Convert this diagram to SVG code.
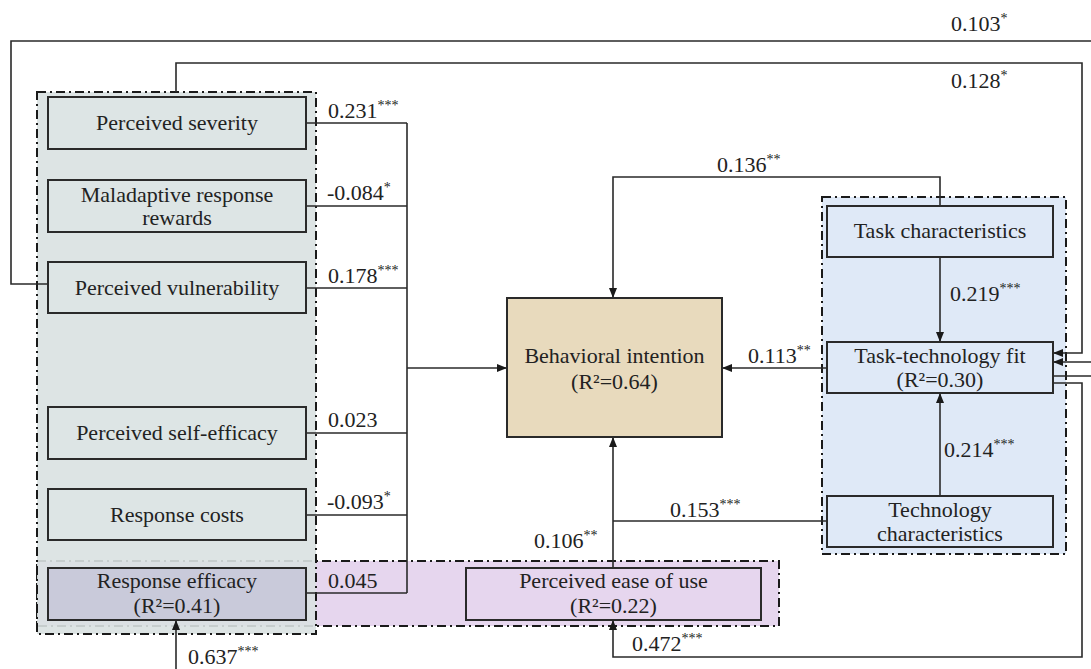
<svg xmlns="http://www.w3.org/2000/svg" width="1091" height="669" viewBox="0 0 1091 669">
<style>
.t{font-family:"Liberation Serif","DejaVu Serif",serif;font-size:22px;fill:#222;text-anchor:middle}
.l{font-family:"Liberation Serif","DejaVu Serif",serif;font-size:22px;fill:#222}
.s{font-size:14px}
.box{stroke:#2a2a2a;stroke-width:2}
.grp{stroke:#1a1a1a;stroke-width:2;stroke-dasharray:9 4 2 4}
.c{fill:none;stroke:#2a2a2a;stroke-width:1.6}
</style>
<defs>
<marker id="ah" markerWidth="10" markerHeight="8" refX="9" refY="4" orient="auto" markerUnits="userSpaceOnUse">
<path d="M0,0 L10,4 L0,8 Z" fill="#1a1a1a"/>
</marker>
</defs>
<rect width="1091" height="669" fill="#fff"/>

<g id="group-peou-band">
<rect x="37" y="561" width="742" height="65" fill="#e6d6ee" class="grp"/>
</g>
<g id="group-pmt">
<rect x="37" y="92" width="279" height="542" fill="#d9e1e1" fill-opacity="0.9" class="grp"/>
</g>
<g id="group-ttf">
<rect x="822" y="197" width="244" height="357" fill="#dfe9f7" class="grp"/>
</g>

<g id="connectors">
<polyline class="c" points="306,123 407,123"/>
<polyline class="c" points="306,206 407,206"/>
<polyline class="c" points="306,288 407,288"/>
<polyline class="c" points="306,433 407,433"/>
<polyline class="c" points="306,515 407,515"/>
<polyline class="c" points="306,593 407,593"/>
<polyline class="c" points="407,123 407,593"/>
<polyline class="c" points="407,368 506,368" marker-end="url(#ah)"/>
<polyline class="c" points="48,284 11,284 11,41 1091,41"/>
<polyline class="c" points="1091,362 1054,362" marker-end="url(#ah)"/>
<polyline class="c" points="176,92 176,63 1082,63 1082,353 1054,353" marker-end="url(#ah)"/>
<polyline class="c" points="1053,376 1091,376"/>
<polyline class="c" points="1053,383 1082,383 1082,657 613,657 613,621" marker-end="url(#ah)"/>
<polyline class="c" points="176,669 176,621" marker-end="url(#ah)"/>
<polyline class="c" points="940,206 940,177 613,177 613,297" marker-end="url(#ah)"/>
<polyline class="c" points="940,257 940,341" marker-end="url(#ah)"/>
<polyline class="c" points="940,496 940,394" marker-end="url(#ah)"/>
<polyline class="c" points="827,368 723,368" marker-end="url(#ah)"/>
<polyline class="c" points="827,521 613,521"/>
<polyline class="c" points="613,568 613,438" marker-end="url(#ah)"/>
<text class="l" x="328" y="118">0.231<tspan class="s" dy="-8">***</tspan></text>
<text class="l" x="327" y="200">-0.084<tspan class="s" dy="-8">*</tspan></text>
<text class="l" x="328" y="283">0.178<tspan class="s" dy="-8">***</tspan></text>
<text class="l" x="328" y="427">0.023</text>
<text class="l" x="327" y="509">-0.093<tspan class="s" dy="-8">*</tspan></text>
<text class="l" x="328" y="588">0.045</text>
<text class="l" x="951" y="31">0.103<tspan class="s" dy="-8">*</tspan></text>
<text class="l" x="951" y="88">0.128<tspan class="s" dy="-8">*</tspan></text>
<text class="l" x="717" y="172">0.136<tspan class="s" dy="-8">**</tspan></text>
<text class="l" x="950" y="301">0.219<tspan class="s" dy="-8">***</tspan></text>
<text class="l" x="748" y="363">0.113<tspan class="s" dy="-8">**</tspan></text>
<text class="l" x="944" y="457">0.214<tspan class="s" dy="-8">***</tspan></text>
<text class="l" x="670" y="517">0.153<tspan class="s" dy="-8">***</tspan></text>
<text class="l" x="534" y="548">0.106<tspan class="s" dy="-8">**</tspan></text>
<text class="l" x="632" y="651">0.472<tspan class="s" dy="-8">***</tspan></text>
<text class="l" x="188" y="664">0.637<tspan class="s" dy="-8">***</tspan></text>
</g>

<g id="n-severity">
<rect x="48" y="97" width="258" height="52" fill="#dde5e5" class="box"/>
<text class="t" x="177" y="130">Perceived severity</text>
</g>
<g id="n-maladaptive">
<rect x="48" y="180" width="258" height="52" fill="#dde5e5" class="box"/>
<text class="t" x="177" y="202">Maladaptive response</text>
<text class="t" x="177" y="225">rewards</text>
</g>
<g id="n-vulnerability">
<rect x="48" y="262" width="258" height="51" fill="#dde5e5" class="box"/>
<text class="t" x="177" y="295">Perceived vulnerability</text>
</g>
<g id="n-selfefficacy">
<rect x="48" y="407" width="258" height="52" fill="#dde5e5" class="box"/>
<text class="t" x="177" y="440">Perceived self-efficacy</text>
</g>
<g id="n-costs">
<rect x="48" y="489" width="258" height="51" fill="#dde5e5" class="box"/>
<text class="t" x="177" y="522">Response costs</text>
</g>
<g id="n-efficacy">
<rect x="48" y="568" width="258" height="52" fill="#c9cada" class="box"/>
<text class="t" x="177" y="588">Response efficacy</text>
<text class="t" x="177" y="613">(R²=0.41)</text>
</g>
<g id="n-peou">
<rect x="466" y="568" width="295" height="52" fill="#e6d6ee" class="box"/>
<text class="t" x="613.5" y="588">Perceived ease of use</text>
<text class="t" x="613.5" y="613">(R²=0.22)</text>
</g>
<g id="n-bi">
<rect x="507" y="298" width="215" height="139" fill="#e8dabd" class="box"/>
<text class="t" x="614.5" y="363">Behavioral intention</text>
<text class="t" x="614.5" y="389">(R²=0.64)</text>
</g>
<g id="n-tc">
<rect x="827" y="206" width="226" height="51" fill="#dfe9f7" class="box"/>
<text class="t" x="940" y="238">Task characteristics</text>
</g>
<g id="n-ttf">
<rect x="827" y="342" width="226" height="51" fill="#dfe9f7" class="box"/>
<text class="t" x="940" y="363">Task-technology fit</text>
<text class="t" x="940" y="387">(R²=0.30)</text>
</g>
<g id="n-techc">
<rect x="827" y="496" width="226" height="51" fill="#dfe9f7" class="box"/>
<text class="t" x="940" y="517">Technology</text>
<text class="t" x="940" y="541">characteristics</text>
</g>
</svg>
